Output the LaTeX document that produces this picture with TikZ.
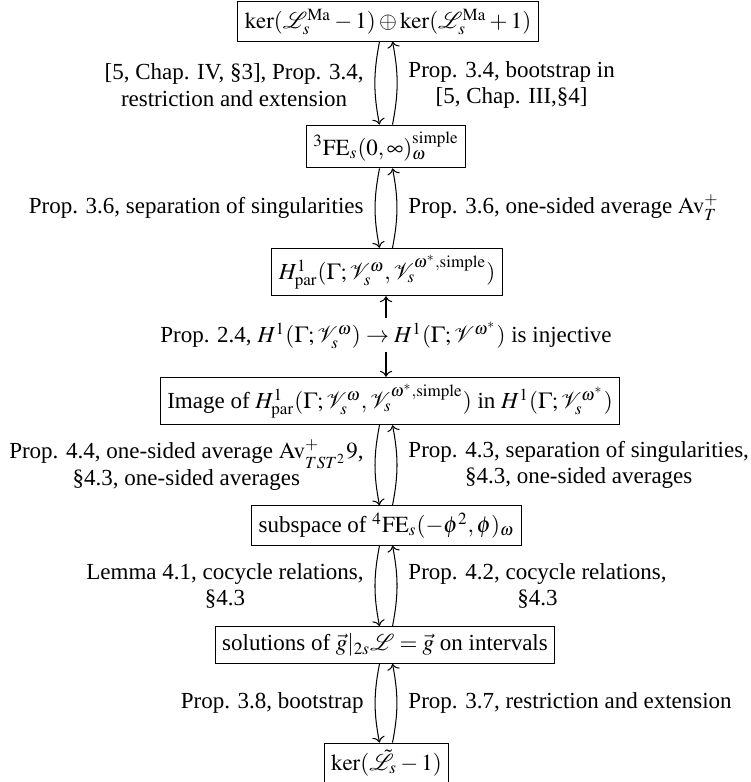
\documentclass[tikz,border=0pt]{standalone}
\usepackage{mathptmx}
\usepackage{fontspec}
\setmainfont{Liberation Serif}
\usetikzlibrary{arrows.meta}
\begin{document}
\begin{tikzpicture}[x=0.4348pt,y=-0.4348pt,
  font=\fontsize{10}{11.6}\selectfont,
  box/.style={draw, line width=0.45pt, inner sep=3pt},
  lab/.style={inner sep=0pt, align=center},
  mid/.style={inner sep=1.5pt},
  arr/.style={->, line width=0.45pt},
  bowed/.style={arr, bend right=11}]
\useasboundingbox (0,0) rectangle (751,782);
\coordinate (xl) at (379.5,0);
\coordinate (xr) at (392.5,0);
\coordinate (xc) at (386,0);
% boxes
\node[box] (n1) at (388,21.5) {$\ker(\mathcal{L}_s^{\mathrm{Ma}}-1)\oplus\ker(\mathcal{L}_s^{\mathrm{Ma}}+1)$};
\node[box] (n2) at (386,146.5) {${}^3\mathrm{FE}_s(0,\infty)_\omega^{\mathrm{simple}}$};
\node[box] (n3) at (387,272) {$H^1_{\mathrm{par}}(\Gamma;\mathcal{V}_s^\omega,\mathcal{V}_s^{\omega^*,\mathrm{simple}})$};
\node[box] (n4) at (390,401) {Image of $H^1_{\mathrm{par}}(\Gamma;\mathcal{V}_s^\omega,\mathcal{V}_s^{\omega^*,\mathrm{simple}})$ in $H^1(\Gamma;\mathcal{V}_s^{\omega^*})$};
\node[box] (n5) at (386.5,525.5) {subspace of ${}^4\mathrm{FE}_s(-\phi^2,\phi)_\omega$};
\node[box] (n6) at (385,645) {solutions of $\vec g|_{2s}\mathcal{L}=\vec g$ on intervals};
\node[box] (n7) at (386.5,763) {$\ker(\tilde{\mathcal{L}}_s-1)$};
% labels
\node[lab, anchor=east] (l1) at (364,85) {[5, Chap. IV, \S3], Prop. 3.4,\\restriction and extension};
\node[lab, anchor=west] (r1) at (408,85) {Prop. 3.4, bootstrap in\\{}[5, Chap. III,\S4]};
\node[lab, anchor=east] (l2) at (364,207.5) {Prop. 3.6, separation of singularities};
\node[lab, anchor=west] (r2) at (408,207.5) {Prop. 3.6, one-sided average $\mathrm{Av}_T^+$};
\node[mid] (m3) at (386,335) {Prop. 2.4, $H^1(\Gamma;\mathcal{V}_s^\omega)\to H^1(\Gamma;\mathcal{V}^{\omega^*})$ is injective};
\node[lab, anchor=east] (l4) at (364,465) {Prop. 4.4, one-sided average $\mathrm{Av}^+_{TST^2}9$,\\\S4.3, one-sided averages};
\node[lab, anchor=west] (r4) at (408,465) {Prop. 4.3, separation of singularities,\\\S4.3, one-sided averages};
\node[lab, anchor=east] (l5) at (364,586) {Lemma 4.1, cocycle relations,\\\S4.3};
\node[lab, anchor=west] (r5) at (408,586) {Prop. 4.2, cocycle relations,\\\S4.3};
\node[lab, anchor=east] (l6) at (364,703) {Prop. 3.8, bootstrap};
\node[lab, anchor=west] (r6) at (408,703) {Prop. 3.7, restriction and extension};
% arrows
\draw[bowed] (n1.south -| xl) to (n2.north -| xl);
\draw[bowed] (n2.north -| xr) to (n1.south -| xr);
\draw[bowed] (n2.south -| xl) to (n3.north -| xl);
\draw[bowed] (n3.north -| xr) to (n2.south -| xr);
\draw[arr] (m3.north -| xc) -- (n3.south -| xc);
\draw[arr] (m3.south -| xc) -- (n4.north -| xc);
\draw[bowed] (n4.south -| xl) to (n5.north -| xl);
\draw[bowed] (n5.north -| xr) to (n4.south -| xr);
\draw[bowed] (n5.south -| xl) to (n6.north -| xl);
\draw[bowed] (n6.north -| xr) to (n5.south -| xr);
\draw[bowed] (n6.south -| xl) to (n7.north -| xl);
\draw[bowed] (n7.north -| xr) to (n6.south -| xr);
\end{tikzpicture}
\end{document}
